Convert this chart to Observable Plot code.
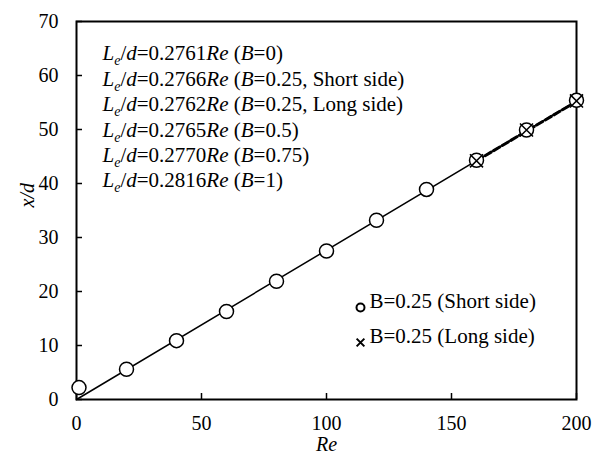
<!DOCTYPE html>
<html>
<head>
<meta charset="utf-8">
<script src="https://cdn.jsdelivr.net/npm/d3@7"></script>
<script src="https://cdn.jsdelivr.net/npm/@observablehq/plot@0.6"></script>
</head>
<body style="margin:0">
<div id="chart"></div>
<script>
// Data
const reShort = [1, 20, 40, 60, 80, 100, 120, 140, 160, 180, 200];
const xdShort = [2.2, 5.6, 10.9, 16.3, 21.9, 27.5, 33.2, 38.9, 44.3, 49.9, 55.4];
const reLong = [160, 180, 200];
const xdLong = [44.2, 49.9, 55.3];
const fitRe = [0, 200];
const fitShort = [0, 55.3];
const fitLongRe = [160, 200];
const fitLong = [44.2, 55.2];
const xTicks = [0, 50, 100, 150, 200];
const yTicks = [0, 10, 20, 30, 40, 50, 60, 70];
const coefs = ["0.2761", "0.2766", "0.2762", "0.2765", "0.2770", "0.2816"];
const conds = ["0", "0.25, Short side", "0.25, Long side", "0.5", "0.75", "1"];
const legendLabels = ["B=0.25 (Short side)", "B=0.25 (Long side)"];

const shortData = reShort.map((r, i) => ({re: r, xd: xdShort[i]}));
const longData = reLong.map((r, i) => ({re: r, xd: xdLong[i]}));
const fitData = fitRe.map((r, i) => ({re: r, xd: fitShort[i]}));
const fitLongData = fitLongRe.map((r, i) => ({re: r, xd: fitLong[i]}));
const annotLines = coefs.map((c, i) => ({coef: c, cond: conds[i], line: i}));

const font = "Liberation Serif";

const plot = Plot.plot({
  width: 600,
  height: 455,
  marginLeft: 76,
  marginRight: 24,
  marginTop: 21,
  marginBottom: 56,
  x: {domain: [0, 200], label: null},
  y: {domain: [0, 70], label: null},
  marks: [
    Plot.axisX({ticks: xTicks, tickSize: -6, text: null, label: null, strokeWidth: 1.5}),
    Plot.axisX({ticks: xTicks, tickSize: 0, tickPadding: 16, label: null, fontSize: 20, fontFamily: font, fill: "#000"}),
    Plot.axisY({ticks: yTicks, tickSize: -6, text: null, label: null, strokeWidth: 1.5}),
    Plot.axisY({ticks: yTicks, tickSize: 0, tickPadding: 18, label: null, fontSize: 20, fontFamily: font, fill: "#000"}),
    Plot.frame({stroke: "#000", strokeWidth: 2}),
    Plot.line(fitData, {x: "re", y: "xd", stroke: "#000", strokeWidth: 1.5}),
    Plot.line(fitLongData, {x: "re", y: "xd", stroke: "#000", strokeWidth: 3, strokeDasharray: "7,3"}),
    Plot.dot(shortData, {x: "re", y: "xd", r: 7, stroke: "#000", fill: "#fff", strokeWidth: 1.5}),
    Plot.dot(longData, {x: "re", y: "xd", r: 6, symbol: "times", stroke: "#000", strokeWidth: 1.5}),
    // legend
    Plot.dot([legendLabels[0]], {frameAnchor: "bottom-right", dx: -216, dy: -92, r: 4, stroke: "#000", fill: "#fff", strokeWidth: 2}),
    Plot.dot([legendLabels[1]], {frameAnchor: "bottom-right", dx: -216, dy: -57, r: 3.6, symbol: "times", stroke: "#000", strokeWidth: 2}),
    Plot.text([legendLabels[0]], {text: d => d, frameAnchor: "bottom-right", dx: -207, dy: -92, textAnchor: "start", fontSize: 21, fontFamily: font}),
    Plot.text([legendLabels[1]], {text: d => d, frameAnchor: "bottom-right", dx: -207, dy: -57, textAnchor: "start", fontSize: 21, fontFamily: font}),
    // annotations: one text mark per line
    ...annotLines.map(a => Plot.text([a], {
      text: d => `L|e|/|d|=${d.coef}|Re| (|B|=${d.cond})`,
      frameAnchor: "top-left", dx: 26, dy: 24 + a.line * 25.4, textAnchor: "start", fontSize: 21, fontFamily: font
    })),
    // axis labels
    Plot.text(["Re"], {text: d => d, frameAnchor: "bottom", dy: 51, fontStyle: "italic", fontSize: 20, fontFamily: font}),
    Plot.text(["x/d"], {text: d => d, frameAnchor: "left", dx: -49, dy: -3, rotate: -90, fontStyle: "italic", fontSize: 20, fontFamily: font})
  ]
});

const italicParts = new Set([0, 1, 3, 5, 7]);
d3.select(plot).selectAll("text").each(function() {
  if (this.childElementCount > 0) return;
  const s = this.textContent;
  const sel = d3.select(this);
  sel.text(null);
  if (s.includes("|")) {
    // rich annotation: italic symbols, subscript "e"
    let shifted = false;
    s.split("|").forEach((t, i) => {
      const ts = sel.append("tspan").text(t);
      if (italicParts.has(i)) ts.attr("font-style", "italic");
      if (i === 1) { ts.attr("font-size", "14px").attr("dy", "5"); shifted = true; }
      else if (shifted) { ts.attr("dy", "-5"); shifted = false; }
    });
  } else {
    sel.append("tspan").text(s);
  }
});
d3.select(plot).selectAll("text, tspan").style("font-family", "'Liberation Serif', serif");

document.getElementById("chart").appendChild(plot);
</script>
</body>
</html>
